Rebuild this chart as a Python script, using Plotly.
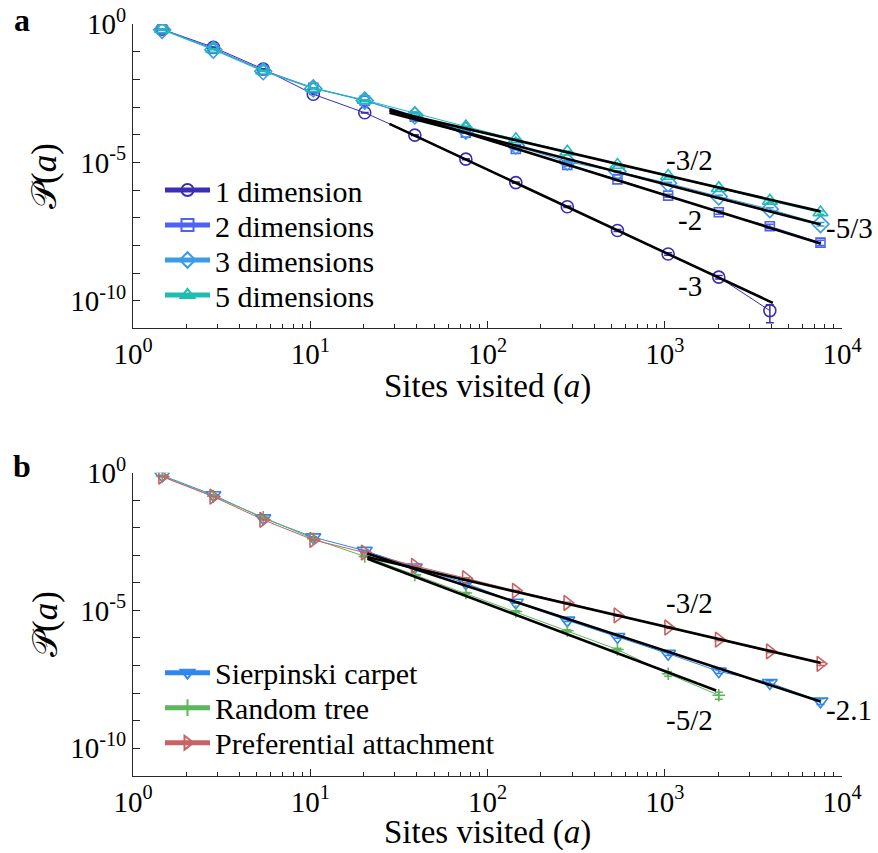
import plotly.graph_objects as go

# ---------------- data ----------------
x_sites = [1.46, 2.84, 5.43, 10.4, 20.3, 38.9, 75.5, 144.5, 282, 541, 1045, 2018, 3917, 7560]

# panel a (log10 of P(a))
log_p_1d = [-0.18, -0.83, -1.62, -2.53, -3.20, -4.01, -4.88, -5.73, -6.60, -7.46, -8.31, -9.15, -10.36]
log_p_2d = [-0.18, -0.88, -1.66, -2.30, -2.76, -3.34, -3.92, -4.51, -5.09, -5.61, -6.20, -6.80, -7.31, -7.90]
log_p_3d = [-0.20, -0.92, -1.70, -2.32, -2.76, -3.30, -3.85, -4.39, -4.97, -5.33, -5.75, -6.23, -6.69, -7.23]
log_p_5d = [-0.18, -0.90, -1.68, -2.31, -2.74, -3.22, -3.70, -4.16, -4.61, -5.09, -5.49, -5.93, -6.39, -6.81]
rel_err_1d = [0.01, 0.01, 0.02, 0.02, 0.03, 0.03, 0.04, 0.05, 0.06, 0.08, 0.10, 0.15, 0.64]
rel_err_2d = [0.01, 0.01, 0.02, 0.02, 0.03, 0.04, 0.05, 0.06, 0.08, 0.10, 0.12, 0.15, 0.18, 0.22]
rel_err_3d = [0.01, 0.01, 0.02, 0.02, 0.03, 0.03, 0.04, 0.05, 0.06, 0.07, 0.08, 0.10, 0.12, 0.15]
rel_err_5d = [0.01, 0.01, 0.02, 0.02, 0.03, 0.03, 0.04, 0.05, 0.06, 0.07, 0.08, 0.10, 0.12, 0.14]

# panel b
log_p_sier = [-0.10, -0.81, -1.65, -2.34, -2.83, -3.43, -4.01, -4.71, -5.36, -5.96, -6.57, -7.21, -7.63, -8.30]
log_p_tree = [-0.13, -0.85, -1.62, -2.40, -3.04, -3.71, -4.37, -5.04, -5.74, -6.42, -7.30, -8.08]
log_p_pref = [-0.145, -0.87, -1.71, -2.44, -2.90, -3.38, -3.83, -4.29, -4.73, -5.18, -5.62, -6.06, -6.49, -6.94]
rel_err_sier = [0.01, 0.01, 0.02, 0.02, 0.03, 0.04, 0.05, 0.07, 0.09, 0.11, 0.14, 0.17, 0.20, 0.24]
rel_err_tree = [0.01, 0.01, 0.02, 0.02, 0.03, 0.04, 0.05, 0.07, 0.09, 0.12, 0.18, 0.28]
rel_err_pref = [0.01, 0.01, 0.02, 0.02, 0.03, 0.03, 0.04, 0.05, 0.06, 0.07, 0.08, 0.09, 0.10, 0.12]

# fitted power laws: endpoints (x, P)
fit_1d_x, fit_1d_y = [28, 4070], [2.5e-4, 8.3e-11]
fit_2d_x, fit_2d_y = [28, 7560], [8.5e-4, 1.17e-8]
fit_3d_x, fit_3d_y = [28, 7560], [6.3e-4, 5.7e-8]
fit_5d_x, fit_5d_y = [28, 7560], [7.5e-4, 1.7e-7]
fit_pref_x, fit_pref_y = [21, 7560], [8.7e-4, 1.26e-7]
fit_sier_x, fit_sier_y = [21, 7560], [1.17e-3, 4.9e-9]
fit_tree_x, fit_tree_y = [21, 1950], [7.5e-4, 1.23e-8]

# slope labels: (text, log10 x, log10 y)
labels_a = [("-3/2", 3.14, -4.91), ("-2", 3.145, -7.08), ("-5/3", 4.04, -7.37), ("-3", 3.145, -9.46)]
labels_b = [("-3/2", 3.14, -4.73), ("-2.1", 4.04, -8.60), ("-5/2", 3.14, -8.96)]

x_tickvals = [1, 10, 100, 1000, 10000]
x_ticktext = ["10<sup>0</sup>", "10<sup>1</sup>", "10<sup>2</sup>", "10<sup>3</sup>", "10<sup>4</sup>"]
x_minor = [m * 10 ** d for d in range(4) for m in range(2, 10)]
y_tickvals = [10.0 ** (-k) for k in range(0, 12)]
y_ticktext = ["10<sup>0</sup>" if k == 0 else ("10<sup>-%d</sup>" % k if k in (5, 10) else " ") for k in range(0, 12)]

x_title = "Sites visited (<i>a</i>)"
y_title = "𝒫(<i>a</i>)"

FONT = "Liberation Serif"
W, H = 878, 853
X_RANGE = [0, 4]
Y_RANGE = [-11, 0]


def px_x(p):
    return p / W


def px_y(p):
    return 1 - p / H


xdom = [px_x(133), px_x(842)]
ydom_a = [px_y(328.3), px_y(24.3)]
ydom_b = [px_y(775.7), px_y(472.7)]

fig = go.Figure()


def add_series(xs, logs, rel, name, color, symbol, size, xa, ya, legend):
    ys = [10 ** v for v in logs]
    errs = [r * y for r, y in zip(rel, ys)]
    fig.add_trace(go.Scatter(
        x=xs[:len(ys)], y=ys, mode="lines+markers", name=name,
        line=dict(color=color, width=1),
        marker=dict(symbol=symbol, size=size, color=color, line=dict(color=color, width=1.6)),
        error_y=dict(type="data", array=errs, color=color, thickness=1.5, width=4),
        xaxis=xa, yaxis=ya, legend=legend,
    ))


def add_fit(xs, ys, xa, ya):
    fig.add_trace(go.Scatter(x=xs, y=ys, mode="lines", line=dict(color="black", width=2.6),
                             showlegend=False, hoverinfo="skip", xaxis=xa, yaxis=ya))


C1, C2, C3, C5 = "#3b2db4", "#4f63f2", "#3a9be6", "#1ebdb4"
CS, CT, CP = "#2f86ee", "#5cb65c", "#c96262"

add_series(x_sites, log_p_1d, rel_err_1d, "1 dimension", C1, "circle-open", 12, "x", "y", "legend")
add_series(x_sites, log_p_2d, rel_err_2d, "2 dimensions", C2, "square-open", 9, "x", "y", "legend2")
add_series(x_sites, log_p_3d, rel_err_3d, "3 dimensions", C3, "diamond-open", 13, "x", "y", "legend3")
add_series(x_sites, log_p_5d, rel_err_5d, "5 dimensions", C5, "triangle-up-open", 13, "x", "y", "legend4")
for fx, fy in [(fit_1d_x, fit_1d_y), (fit_2d_x, fit_2d_y), (fit_3d_x, fit_3d_y), (fit_5d_x, fit_5d_y)]:
    add_fit(fx, fy, "x", "y")

add_series(x_sites, log_p_sier, rel_err_sier, "Sierpinski carpet", CS, "triangle-down-open", 13, "x2", "y2", "legend5")
add_series(x_sites, log_p_tree, rel_err_tree, "Random tree", CT, "cross-thin-open", 9, "x2", "y2", "legend6")
add_series(x_sites, log_p_pref, rel_err_pref, "Preferential attachment", CP, "triangle-right-open", 13, "x2", "y2", "legend7")
for fx, fy in [(fit_pref_x, fit_pref_y), (fit_sier_x, fit_sier_y), (fit_tree_x, fit_tree_y)]:
    add_fit(fx, fy, "x2", "y2")


def xaxis_cfg(anchor):
    return dict(type="log", range=X_RANGE, domain=xdom, anchor=anchor, automargin=False,
                showline=True, linecolor="#262626", linewidth=1, mirror=False,
                ticks="inside", ticklen=7, tickwidth=1, tickcolor="#262626",
                tickvals=x_tickvals, ticktext=x_ticktext, ticklabeloverflow="allow",
                minor=dict(tickvals=x_minor, ticks="inside", ticklen=4, tickwidth=1, tickcolor="#262626", showgrid=False),
                showgrid=False, zeroline=False,
                tickfont=dict(family=FONT, size=29, color="black"))


def yaxis_cfg(anchor, dom):
    return dict(type="log", range=Y_RANGE, domain=dom, anchor=anchor, automargin=False,
                showline=True, linecolor="#262626", linewidth=1, mirror=False,
                ticks="inside", ticklen=7, tickwidth=1, tickcolor="#262626",
                tickvals=y_tickvals, ticktext=y_ticktext, ticklabeloverflow="allow",
                showgrid=False, zeroline=False,
                tickfont=dict(family=FONT, size=29, color="black"))


def to_paper(lx, ly, ydom):
    px = xdom[0] + (lx - X_RANGE[0]) / (X_RANGE[1] - X_RANGE[0]) * (xdom[1] - xdom[0])
    py = ydom[0] + (ly - Y_RANGE[0]) / (Y_RANGE[1] - Y_RANGE[0]) * (ydom[1] - ydom[0])
    return px, py


def text_ann(t, x, y, size, angle=0):
    return dict(text=t, x=x, y=y, xref="paper", yref="paper", showarrow=False, textangle=angle,
                xanchor="center", yanchor="middle", font=dict(family=FONT, size=size, color="black"))


annotations = []
for labels, dom in [(labels_a, ydom_a), (labels_b, ydom_b)]:
    for t, lx, ly in labels:
        px, py = to_paper(lx, ly, dom)
        annotations.append(text_ann(t, px, py, 29))
annotations.append(text_ann("<b>a</b>", px_x(22), px_y(20), 32))
annotations.append(text_ann("<b>b</b>", px_x(22), px_y(466), 32))
annotations.append(text_ann(x_title, px_x(487.5), px_y(387), 33))
annotations.append(text_ann(x_title, px_x(487.5), px_y(832), 33))
annotations.append(text_ann(y_title, px_x(45), px_y(176), 35, -90))
annotations.append(text_ann(y_title, px_x(45), px_y(624), 35, -90))

legend_style = dict(font=dict(family=FONT, size=30, color="black"), bgcolor="rgba(0,0,0,0)",
                    borderwidth=0, xanchor="left", yanchor="middle", itemsizing="constant", itemwidth=45)
legend_rows = [190, 225, 260, 295, 672.7, 707.7, 742.7]
legend_layout = {}
for i, row in enumerate(legend_rows):
    key = "legend" if i == 0 else "legend%d" % (i + 1)
    legend_layout[key] = dict(x=px_x(160), y=px_y(row), **legend_style)

fig.update_layout(
    width=W, height=H, margin=dict(l=0, r=0, t=0, b=0, autoexpand=False),
    paper_bgcolor="white", plot_bgcolor="white",
    font=dict(family=FONT, color="black"),
    xaxis=xaxis_cfg("y"), yaxis=yaxis_cfg("x", ydom_a),
    xaxis2=xaxis_cfg("y2"), yaxis2=yaxis_cfg("x2", ydom_b),
    annotations=annotations,
    showlegend=True,
    **legend_layout,
)

fig.write_html("out.html", config={"displayModeBar": False},
               post_script="document.body.style.margin='0px';document.documentElement.style.overflow='hidden';")
